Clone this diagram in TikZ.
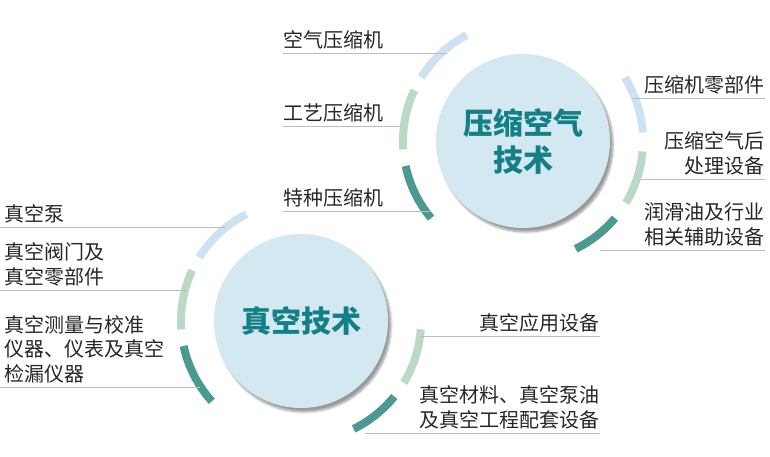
\documentclass[tikz,border=0pt]{standalone}
\usepackage{fontspec}
\setmainfont{Noto Sans CJK SC}
\usetikzlibrary{calc,shadows.blur}
\definecolor{lb}{HTML}{CFE2F3}
\definecolor{lg}{HTML}{BCD9C8}
\definecolor{tl}{HTML}{4A9A92}
\definecolor{cf}{HTML}{D3E8F0}
\definecolor{ct}{HTML}{137F86}
\definecolor{gl}{HTML}{BDBDBD}
\tikzset{
  hub/.style={circle,fill=cf,minimum size=174pt,inner sep=0pt,text=ct,font=\fontsize{30}{37}\selectfont\bfseries,align=center,blur shadow={shadow xshift=3pt,shadow yshift=-4pt,shadow blur steps=6,shadow opacity=40}},
  lbl/.style={font=\fontsize{20}{24.5}\selectfont,text=black!85,inner sep=0pt},
  rule/.style={draw=gl,line width=0.8pt},
  seg/.style={line width=8pt}
}
\begin{document}
\begin{tikzpicture}[x=1pt,y=-1pt]
\useasboundingbox (0,0) rectangle (770,456);
% hubs
\node[hub] (A) at (523,141) {压缩空气\\技术};
\node[hub] (B) at (301,321) {真空技术};
% arcs
\foreach \c/\a/\b in {lb/118/148, lg/155/184, tl/192/220, lb/32/4, lg/-5/-31, tl/-40/-64}{
  \draw[seg,\c] ($(A.center)+(\a:120 and -120)$) arc[start angle=-\a,end angle=-\b,radius=120];
}
\foreach \c/\a/\b in {lb/117/148, lg/155/184, tl/192/222, lg/-4/-31, tl/-39/-64}{
  \draw[seg,\c] ($(B.center)+(\a:120 and -120)$) arc[start angle=-\a,end angle=-\b,radius=120];
}
% top-left
\node[lbl,anchor=south west] (t1) at (283,49) {空气压缩机};
\draw[rule] (283,53) -- (447,53);
\node[lbl,anchor=south west] (t2) at (283,122) {工艺压缩机};
\draw[rule] (283,126) -- (401,126);
\node[lbl,anchor=south west] (t3) at (283,207) {特种压缩机};
\draw[rule] (283,211) -- (430,211);
% top-right
\node[lbl,anchor=south east] (r1) at (765,94) {压缩机零部件};
\draw[rule] (633,98) -- (765,98);
\node[lbl,anchor=south east,align=right] (r2) at (765,175) {压缩空气后\\处理设备};
\draw[rule] (641,179) -- (765,179);
\node[lbl,anchor=south east,align=right] (r3) at (765,246) {润滑油及行业\\相关辅助设备};
\draw[rule] (600,250) -- (765,250);
% bottom-left
\node[lbl,anchor=south west] (b1) at (4,223) {真空泵};
\draw[rule] (0,227) -- (225,227);
\node[lbl,anchor=south west,align=left] (b2) at (4,286) {真空阀门及\\真空零部件};
\draw[rule] (0,290) -- (186,290);
\node[lbl,anchor=south west,align=left] (b3) at (4,383) {真空测量与校准\\仪器、仪表及真空\\检漏仪器};
\draw[rule] (0,387) -- (200,387);
% bottom-right
\node[lbl,anchor=south east] (c1) at (600,332) {真空应用设备};
\draw[rule] (420,336) -- (600,336);
\node[lbl,anchor=south east,align=right] (c2) at (600,429) {真空材料、真空泵油\\及真空工程配套设备};
\draw[rule] (365,433) -- (600,433);
\end{tikzpicture}
\end{document}
